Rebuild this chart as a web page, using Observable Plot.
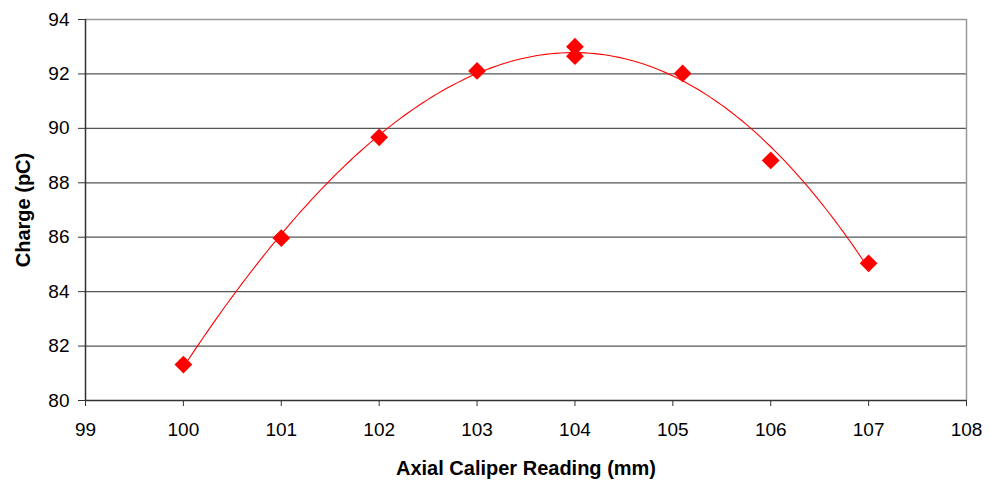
<!DOCTYPE html>
<html>
<head>
<meta charset="utf-8">
<script src="https://cdn.jsdelivr.net/npm/d3@7"></script>
<script src="https://cdn.jsdelivr.net/npm/@observablehq/plot@0.6"></script>
<style>
  body { margin: 0; background: #fff; }
  #chart svg { font-family: "Liberation Sans", Arial, sans-serif; }
  #chart svg text { font-size: 19px; fill: #000; }
  #chart g[aria-label="y-axis label"] text, #chart g[aria-label="x-axis label"] text { font-weight: bold; font-size: 20px; }
</style>
</head>
<body>
<div id="chart"></div>
<script>
// Data
const caliper = [100, 101, 102, 103, 104, 104, 105.1, 106, 107];
const charge  = [81.32, 85.97, 89.67, 92.11, 93.0, 92.65, 92.02, 88.82, 85.04];
const xTicks = [99, 100, 101, 102, 103, 104, 105, 106, 107, 108];
const yTicks = [80, 82, 84, 86, 88, 90, 92, 94];

const points = caliper.map((x, i) => ({x, y: charge[i]}));

// Polynomial trendline (least squares) fitted to the data
function polyFit(xs, ys, order) {
  const n = order + 1;
  const A = Array.from({length: n}, () => new Array(n + 1).fill(0));
  for (let k = 0; k < xs.length; k++) {
    const x = xs[k] - 100;
    for (let i = 0; i < n; i++) {
      for (let j = 0; j < n; j++) A[i][j] += Math.pow(x, i + j);
      A[i][n] += ys[k] * Math.pow(x, i);
    }
  }
  for (let i = 0; i < n; i++) {
    let p = i;
    for (let r = i + 1; r < n; r++) if (Math.abs(A[r][i]) > Math.abs(A[p][i])) p = r;
    const tmp = A[i]; A[i] = A[p]; A[p] = tmp;
    for (let r = 0; r < n; r++) {
      if (r === i) continue;
      const f = A[r][i] / A[i][i];
      for (let c = i; c <= n; c++) A[r][c] -= f * A[i][c];
    }
  }
  const coef = A.map((row, i) => row[n] / row[i]);
  return x => coef.reduce((s, c, i) => s + c * Math.pow(x - 100, i), 0);
}
const fit = polyFit(caliper, charge, 3);
const xMin = d3.min(caliper), xMax = d3.max(caliper);
const trend = d3.range(0, 141).map(i => {
  const x = xMin + (xMax - xMin) * i / 140;
  return {x, y: fit(x)};
});

const chart = Plot.plot({
  width: 990,
  height: 481,
  marginLeft: 85,
  marginRight: 24,
  marginTop: 19,
  marginBottom: 81,
  style: {fontFamily: "'Liberation Sans', Arial, sans-serif", color: "#000", background: "#fff"},
  x: {domain: [99, 108]},
  y: {domain: [80, 94]},
  marks: [
    Plot.ruleY(yTicks.slice(1, -1), {stroke: "#555", strokeWidth: 1.2}),
    Plot.ruleY([94], {stroke: "#999", strokeWidth: 1.5}),
    Plot.ruleX([108], {stroke: "#999", strokeWidth: 1.5}),
    Plot.ruleX([99], {stroke: "#333", strokeWidth: 1.5}),
    Plot.ruleY([80], {stroke: "#333", strokeWidth: 1.5}),
    Plot.axisX({ticks: xTicks, tickSize: 6, tickPadding: 16, stroke: "#333",
      label: "Axial Caliper Reading (mm)", labelAnchor: "center", labelArrow: "none", labelOffset: 74}),
    Plot.axisY({ticks: yTicks, tickSize: 7, tickPadding: 9, stroke: "#333",
      label: "Charge (pC)", labelAnchor: "center", labelArrow: "none", labelOffset: 70}),
    Plot.line(trend, {x: "x", y: "y", stroke: "#ff0000", strokeWidth: 1.1}),
    Plot.dot(points, {x: "x", y: "y", symbol: "diamond2", r: 8, fill: "#ff0000", stroke: "none"})
  ]
});
document.getElementById("chart").appendChild(chart);
</script>
</body>
</html>
